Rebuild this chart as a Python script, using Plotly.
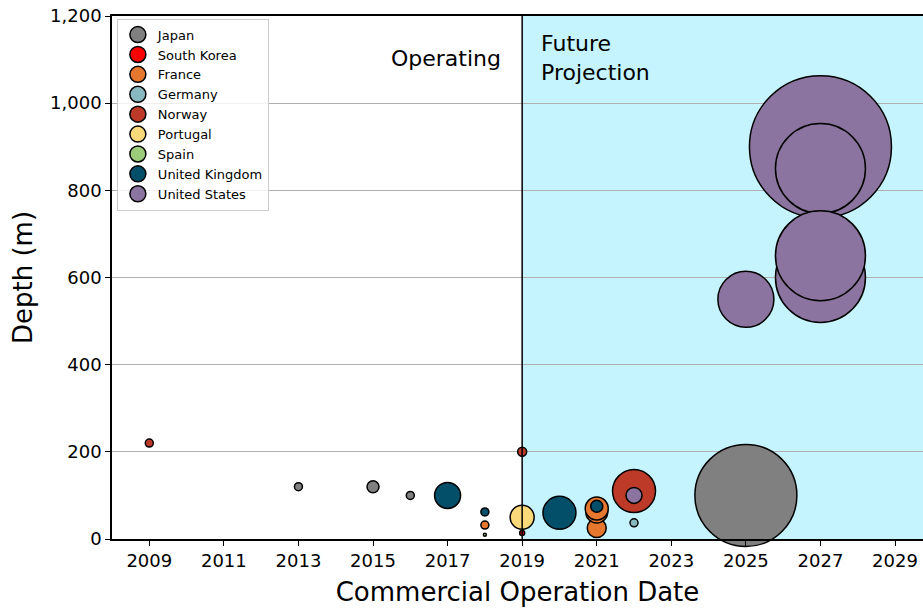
import plotly.graph_objects as go

countries = ["Japan", "South Korea", "France", "Germany", "Norway", "Portugal",
             "Spain", "United Kingdom", "United States"]
colors = ["#808080", "#ff0000", "#e6772e", "#86b9c0", "#bc3a27", "#fad97a",
          "#9ccc7a", "#034f69", "#8b749f"]

# per-country project data: operation year, depth (m), bubble diameter (px)
years = {
    "Japan": [2013, 2015, 2016, 2025],
    "South Korea": [2019],
    "France": [2018, 2021, 2021, 2021],
    "Germany": [2022],
    "Norway": [2009, 2019, 2022],
    "Portugal": [2019],
    "Spain": [2018],
    "United Kingdom": [2017, 2018, 2020, 2021],
    "United States": [2022, 2025, 2027, 2027, 2027, 2027],
}
depths = {
    "Japan": [120, 120, 100, 100],
    "South Korea": [14],
    "France": [32, 25, 62, 70],
    "Germany": [37],
    "Norway": [220, 200, 110],
    "Portugal": [50],
    "Spain": [10],
    "United Kingdom": [100, 62, 60, 75],
    "United States": [100, 550, 900, 850, 600, 650],
}
sizes = {
    "Japan": [8, 12, 8, 102],
    "South Korea": [5],
    "France": [8, 19, 22, 23],
    "Germany": [8],
    "Norway": [8, 9, 43],
    "Portugal": [24],
    "Spain": [3],
    "United Kingdom": [26, 8, 33, 12],
    "United States": [16, 56, 142, 90, 90, 90],
}

x_ticks = list(range(2009, 2030, 2))
y_ticks = [0, 200, 400, 600, 800, 1000, 1200]
divider_year = 2019

fig = go.Figure()
for c, col in zip(countries, colors):
    fig.add_trace(go.Scatter(
        x=years[c], y=depths[c], mode="markers", name=c, showlegend=False,
        marker=dict(size=sizes[c], sizemode="diameter", color=col, opacity=1,
                    line=dict(color="black", width=1.5)),
        cliponaxis=False,
    ))
for c, col in zip(countries, colors):
    fig.add_trace(go.Scatter(
        x=[None], y=[None], mode="markers", name=c,
        marker=dict(size=20, color=col, line=dict(color="black", width=1.5)),
    ))

fig.add_shape(type="rect", xref="x", yref="paper", x0=divider_year, x1=2031,
              y0=0, y1=1, fillcolor="#c5f4fe", line_width=0, layer="below")
fig.add_shape(type="line", xref="x", yref="paper", x0=divider_year, x1=divider_year,
              y0=0, y1=1, line=dict(color="black", width=1.5))

fig.add_annotation(x=divider_year, y=1103, xref="x", yref="y", text="Operating",
                   xanchor="right", yanchor="middle", xshift=-19, showarrow=False,
                   font=dict(size=22, color="black"))
fig.add_annotation(x=divider_year, y=1103, xref="x", yref="y",
                   text="Future<br>Projection", align="left",
                   xanchor="left", yanchor="middle", xshift=17, showarrow=False,
                   font=dict(size=22, color="black"))

fig.update_layout(
    width=923, height=609,
    margin=dict(l=112, r=0, t=16, b=70),
    paper_bgcolor="white", plot_bgcolor="white",
    font=dict(family="DejaVu Sans", color="black"),
    legend=dict(x=0.006, y=0.995, xanchor="left", yanchor="top",
                bgcolor="rgba(255,255,255,0.8)", bordercolor="#cccccc",
                borderwidth=1, font=dict(size=13), itemsizing="trace",
                tracegroupgap=0),
    xaxis=dict(range=[2008, 2029.75], tickvals=x_ticks, ticks="outside",
               ticklen=5, tickwidth=1, tickcolor="black", showgrid=False,
               zeroline=False, showline=True, linecolor="black", linewidth=1.5,
               mirror=True, tickfont=dict(size=18),
               title=dict(text="Commercial Operation Date", font=dict(size=26),
                          standoff=12)),
    yaxis=dict(range=[0, 1200], tickvals=y_ticks, tickformat=",d", ticks="outside",
               ticklen=5, tickwidth=1, tickcolor="black", showgrid=True,
               gridcolor="#b0b0b0", gridwidth=1.2, zeroline=False, showline=True,
               linecolor="black", linewidth=1.5, mirror=False,
               tickfont=dict(size=18),
               title=dict(text="Depth (m)", font=dict(size=26), standoff=10)),
)

fig.write_html("out.html", config={"displayModeBar": False},
               post_script="document.body.style.margin='0';"
                           "document.body.style.overflow='hidden';")
